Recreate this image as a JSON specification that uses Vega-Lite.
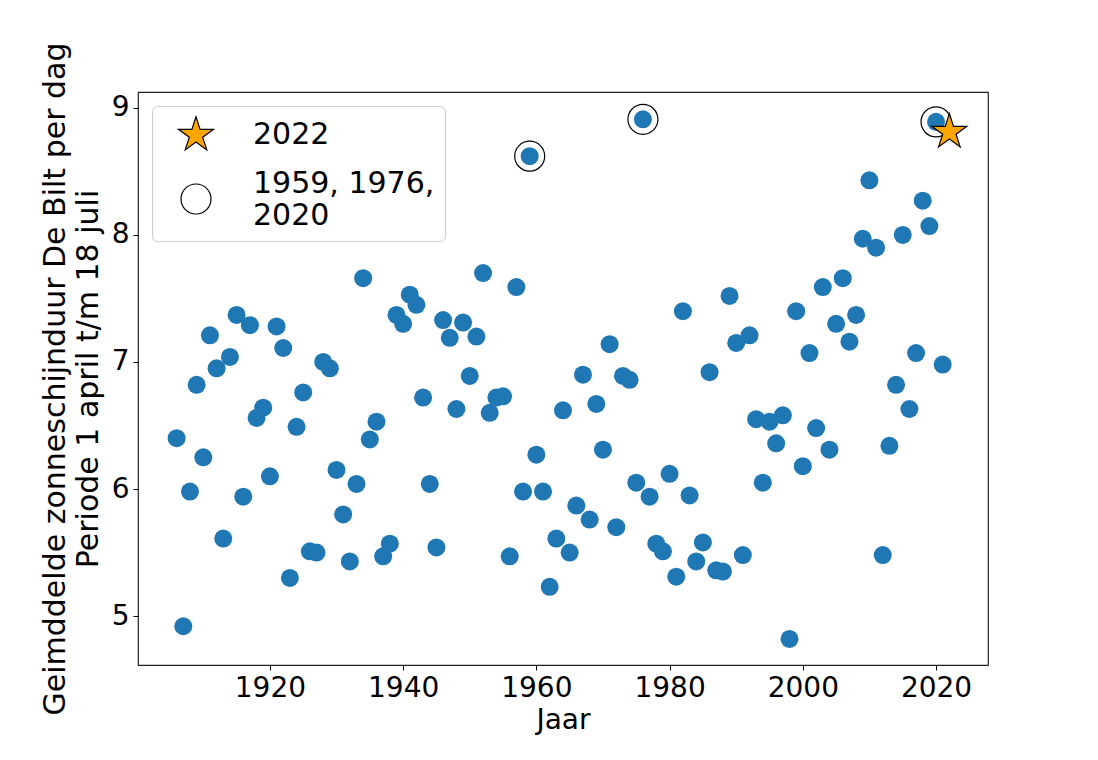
{
  "$schema": "https://vega.github.io/schema/vega-lite/v6.json",
  "autosize": "none",
  "width": 850,
  "height": 573,
  "padding": {"left": 138, "top": 92, "right": 110, "bottom": 95},
  "background": "white",
  "config": {
    "font": "DejaVu Sans",
    "view": {"stroke": "#222222", "strokeWidth": 1.2},
    "axis": {
      "domain": false,
      "grid": false,
      "ticks": true,
      "tickColor": "black",
      "tickSize": 5,
      "tickWidth": 1,
      "labelColor": "black",
      "labelFont": "DejaVu Sans",
      "labelFontSize": 28,
      "labelPadding": 4,
      "titleColor": "black",
      "titleFont": "DejaVu Sans",
      "titleFontSize": 28,
      "titleFontWeight": "normal"
    },
    "legend": {
      "labelFont": "DejaVu Sans",
      "labelFontSize": 30,
      "labelColor": "black"
    }
  },
  "data": {
    "values": [
      {"year": 1906, "value": 6.40}, {"year": 1907, "value": 4.92}, {"year": 1908, "value": 5.98},
      {"year": 1909, "value": 6.82}, {"year": 1910, "value": 6.25}, {"year": 1911, "value": 7.21},
      {"year": 1912, "value": 6.95}, {"year": 1913, "value": 5.61}, {"year": 1914, "value": 7.04},
      {"year": 1915, "value": 7.37}, {"year": 1916, "value": 5.94}, {"year": 1917, "value": 7.29},
      {"year": 1918, "value": 6.56}, {"year": 1919, "value": 6.64}, {"year": 1920, "value": 6.10},
      {"year": 1921, "value": 7.28}, {"year": 1922, "value": 7.11}, {"year": 1923, "value": 5.30},
      {"year": 1924, "value": 6.49}, {"year": 1925, "value": 6.76}, {"year": 1926, "value": 5.51},
      {"year": 1927, "value": 5.50}, {"year": 1928, "value": 7.00}, {"year": 1929, "value": 6.95},
      {"year": 1930, "value": 6.15}, {"year": 1931, "value": 5.80}, {"year": 1932, "value": 5.43},
      {"year": 1933, "value": 6.04}, {"year": 1934, "value": 7.66}, {"year": 1935, "value": 6.39},
      {"year": 1936, "value": 6.53}, {"year": 1937, "value": 5.47}, {"year": 1938, "value": 5.57},
      {"year": 1939, "value": 7.37}, {"year": 1940, "value": 7.30}, {"year": 1941, "value": 7.53},
      {"year": 1942, "value": 7.45}, {"year": 1943, "value": 6.72}, {"year": 1944, "value": 6.04},
      {"year": 1945, "value": 5.54}, {"year": 1946, "value": 7.33}, {"year": 1947, "value": 7.19},
      {"year": 1948, "value": 6.63}, {"year": 1949, "value": 7.31}, {"year": 1950, "value": 6.89},
      {"year": 1951, "value": 7.20}, {"year": 1952, "value": 7.70}, {"year": 1953, "value": 6.60},
      {"year": 1954, "value": 6.72}, {"year": 1955, "value": 6.73}, {"year": 1956, "value": 5.47},
      {"year": 1957, "value": 7.59}, {"year": 1958, "value": 5.98},
      {"year": 1959, "value": 8.62, "group": "1959, 1976, 2020"},
      {"year": 1960, "value": 6.27}, {"year": 1961, "value": 5.98}, {"year": 1962, "value": 5.23},
      {"year": 1963, "value": 5.61}, {"year": 1964, "value": 6.62}, {"year": 1965, "value": 5.50},
      {"year": 1966, "value": 5.87}, {"year": 1967, "value": 6.90}, {"year": 1968, "value": 5.76},
      {"year": 1969, "value": 6.67}, {"year": 1970, "value": 6.31}, {"year": 1971, "value": 7.14},
      {"year": 1972, "value": 5.70}, {"year": 1973, "value": 6.89}, {"year": 1974, "value": 6.86},
      {"year": 1975, "value": 6.05},
      {"year": 1976, "value": 8.91, "group": "1959, 1976, 2020"},
      {"year": 1977, "value": 5.94}, {"year": 1978, "value": 5.57}, {"year": 1979, "value": 5.51},
      {"year": 1980, "value": 6.12}, {"year": 1981, "value": 5.31}, {"year": 1982, "value": 7.40},
      {"year": 1983, "value": 5.95}, {"year": 1984, "value": 5.43}, {"year": 1985, "value": 5.58},
      {"year": 1986, "value": 6.92}, {"year": 1987, "value": 5.36}, {"year": 1988, "value": 5.35},
      {"year": 1989, "value": 7.52}, {"year": 1990, "value": 7.15}, {"year": 1991, "value": 5.48},
      {"year": 1992, "value": 7.21}, {"year": 1993, "value": 6.55}, {"year": 1994, "value": 6.05},
      {"year": 1995, "value": 6.53}, {"year": 1996, "value": 6.36}, {"year": 1997, "value": 6.58},
      {"year": 1998, "value": 4.82}, {"year": 1999, "value": 7.40}, {"year": 2000, "value": 6.18},
      {"year": 2001, "value": 7.07}, {"year": 2002, "value": 6.48}, {"year": 2003, "value": 7.59},
      {"year": 2004, "value": 6.31}, {"year": 2005, "value": 7.30}, {"year": 2006, "value": 7.66},
      {"year": 2007, "value": 7.16}, {"year": 2008, "value": 7.37}, {"year": 2009, "value": 7.97},
      {"year": 2010, "value": 8.43}, {"year": 2011, "value": 7.90}, {"year": 2012, "value": 5.48},
      {"year": 2013, "value": 6.34}, {"year": 2014, "value": 6.82}, {"year": 2015, "value": 8.00},
      {"year": 2016, "value": 6.63}, {"year": 2017, "value": 7.07}, {"year": 2018, "value": 8.27},
      {"year": 2019, "value": 8.07},
      {"year": 2020, "value": 8.89, "group": "1959, 1976, 2020"},
      {"year": 2021, "value": 6.98},
      {"year": 2022, "value": 8.81, "group": "2022"}
    ]
  },
  "encoding": {
    "x": {
      "field": "year",
      "type": "quantitative",
      "scale": {"domain": [1900.2, 2027.8], "nice": false, "zero": false},
      "axis": {"values": [1920, 1940, 1960, 1980, 2000, 2020], "format": "d", "title": "Jaar", "titlePadding": 4}
    },
    "y": {
      "field": "value",
      "type": "quantitative",
      "scale": {"domain": [4.615, 9.125], "nice": false, "zero": false},
      "axis": {
        "values": [5, 6, 7, 8, 9],
        "format": "d",
        "title": ["Geimddelde zonneschijnduur De Bilt per dag", "Periode 1 april t/m 18 juli"],
        "titleFontSize": 30,
        "titleLineHeight": 33,
        "titlePadding": 8
      }
    }
  },
  "layer": [
    {
      "transform": [{"filter": "datum.year <= 2021"}],
      "mark": {"type": "circle", "size": 324, "color": "#1f77b4", "opacity": 1}
    },
    {
      "transform": [{"filter": "datum.group != null"}],
      "mark": {"type": "point", "filled": true, "stroke": "black", "strokeWidth": 1.2, "opacity": 1},
      "encoding": {
        "shape": {
          "field": "group",
          "type": "nominal",
          "scale": {
            "domain": ["2022", "1959, 1976, 2020"],
            "range": ["M0,-1L0.2245,-0.309L0.951,-0.309L0.363,0.118L0.588,0.809L0,0.382L-0.588,0.809L-0.363,0.118L-0.951,-0.309L-0.2245,-0.309Z", "circle"]
          },
          "legend": {
            "title": null,
            "orient": "top-left",
            "offset": 14,
            "padding": 10,
            "fillColor": "white",
            "strokeColor": "#cccccc",
            "cornerRadius": 5,
            "symbolStrokeColor": "black",
            "symbolStrokeWidth": 1.2,
            "symbolOpacity": 1,
            "symbolOffset": 15,
            "labelOffset": 38,
            "labelLimit": 500,
            "rowPadding": 16,
            "labelBaseline": {"expr": "datum.label == '2022' ? 'middle' : 'bottom'"},
            "labelExpr": "datum.label == '2022' ? '2022' : ['1959, 1976,', '2020']"
          }
        },
        "fill": {
          "field": "group",
          "type": "nominal",
          "scale": {"domain": ["2022", "1959, 1976, 2020"], "range": ["#FFA500", "rgba(255,255,255,0)"]}
        },
        "size": {
          "field": "group",
          "type": "nominal",
          "scale": {"domain": ["2022", "1959, 1976, 2020"], "range": [1350, 900]}
        }
      }
    }
  ]
}
